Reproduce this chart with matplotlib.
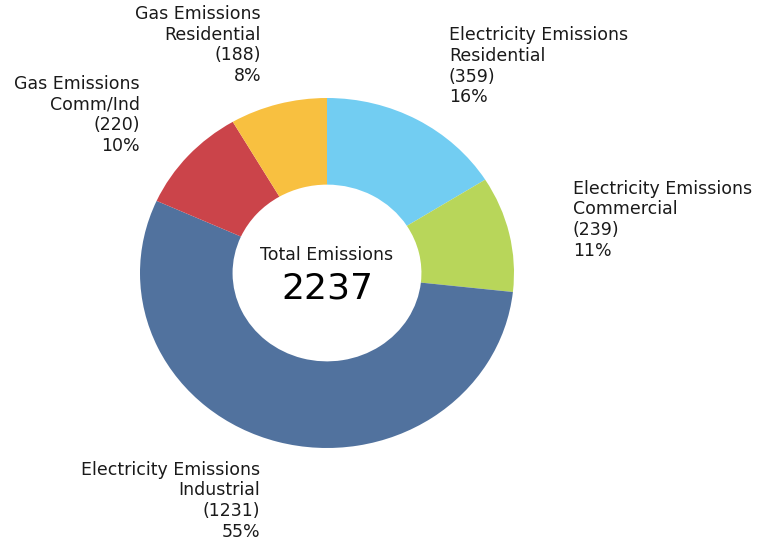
import matplotlib
matplotlib.use("Agg")
import matplotlib.pyplot as plt

# data
categories = [
    "Electricity Emissions\nResidential",
    "Electricity Emissions\nCommercial",
    "Electricity Emissions\nIndustrial",
    "Gas Emissions\nComm/Ind",
    "Gas Emissions\nResidential",
]
values = [359, 239, 1231, 220, 188]
colors = ["#72CDF2", "#B8D65A", "#51729E", "#CB444A", "#F8C040"]

total = sum(values)
labels = [f"{c}\n({v})\n{v / total * 100:.0f}%" for c, v in zip(categories, values)]

fig = plt.figure(figsize=(7.6, 5.4), dpi=100)
ax = fig.add_axes([0, 0, 1, 1])

wedges, texts = ax.pie(
    values,
    labels=labels,
    colors=colors,
    startangle=90,
    counterclock=False,
    labeldistance=1.35,
    wedgeprops=dict(width=0.495, linewidth=0),
    textprops=dict(fontsize=12.5, color="#1a1a1a"),
)

ax.text(0, 0.103, "Total Emissions", ha="center", va="center", fontsize=12.5, color="#1a1a1a")
ax.text(0, -0.091, str(total), ha="center", va="center", fontsize=26, color="black")

# the reference donut is slightly wider than tall: ~187 px across, ~175 px up
ax.set_aspect("auto")
ax.set_xlim(-327 / 187, (760 - 327) / 187)
ax.set_ylim(-(540 - 273) / 175, 273 / 175)
ax.axis("off")

fig.savefig("out.png", dpi=100)
